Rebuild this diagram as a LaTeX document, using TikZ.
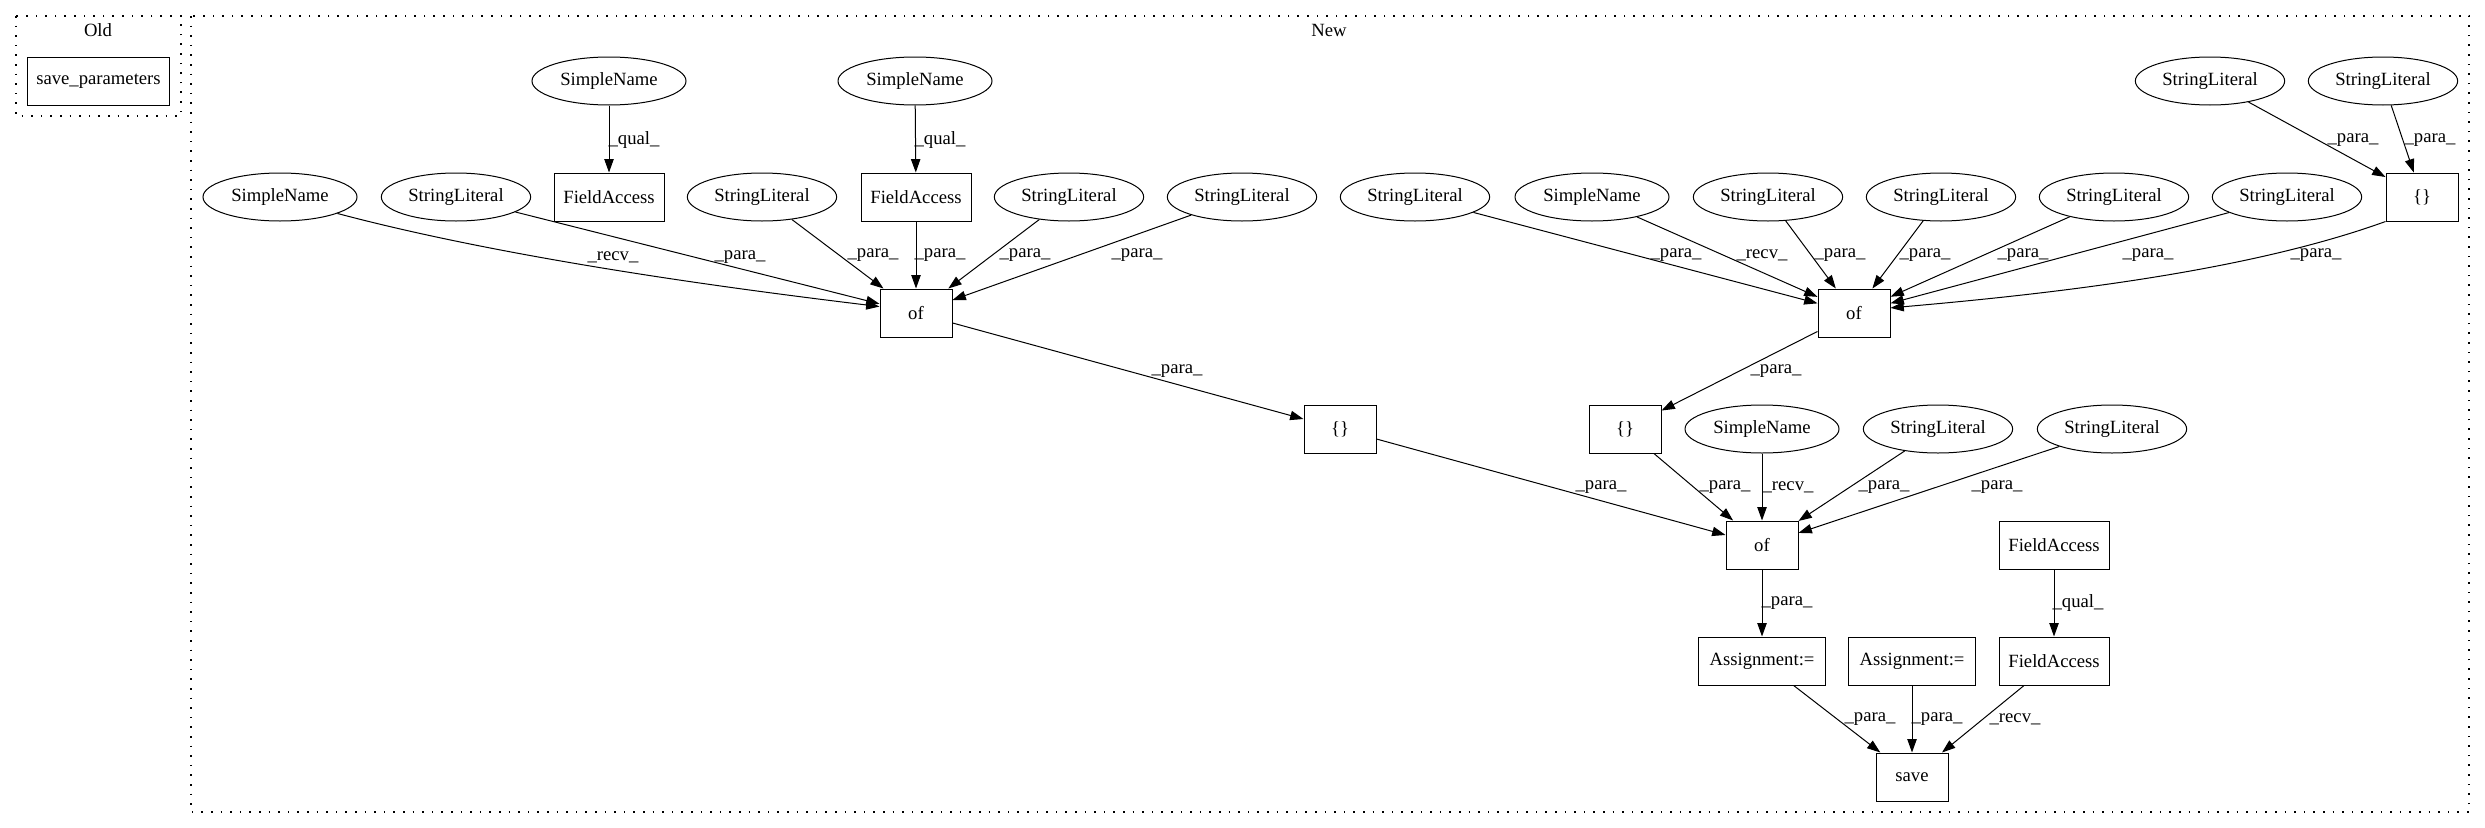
\documentclass[tikz,border=0pt]{standalone}
\usepackage{fontspec}
\setmainfont{Liberation Serif}
\usetikzlibrary{shapes.geometric,arrows.meta}
\tikzset{
  every node/.style={font=\fontsize{14}{16}\selectfont},
  ell/.style={ellipse, draw, line width=0.75pt, minimum width=112pt, minimum height=36pt, inner sep=0pt},
  sn/.style={ell, minimum width=115.5pt},
  box/.style={rectangle, draw, line width=0.75pt, minimum width=54pt, minimum height=36pt, inner sep=0pt},
  fa/.style={box, minimum width=82.5pt},
  asg/.style={box, minimum width=95pt},
  e/.style={draw, line width=0.75pt, -{Triangle[length=10pt,width=7pt]}},
  lab/.style={inner sep=0pt},
  clus/.style={draw, line width=0.9pt, dash pattern=on 1.2pt off 6pt}
}
\begin{document}
\begin{tikzpicture}[x=0.75pt, y=-0.75pt]
\useasboundingbox (0,0) rectangle (2485,828);
% clusters
\draw[clus] (16,16) rectangle (181,116);
\node (old) at (98,30) {Old};
\draw[clus] (191,16) rectangle (2469,812);
\node (new) at (1329,30) {New};
% Old
\node[box, minimum width=107pt] (sp) at (98.5,81) {save\_parameters};
% row 1
\node[sn] (sn1) at (609,81) {SimpleName};
\node[sn] (sn2) at (915,81) {SimpleName};
\node[ell] (slt1) at (2210,81) {StringLiteral};
\node[ell] (slt2) at (2383,81) {StringLiteral};
% row 2
\node[sn] (sna) at (280,197) {SimpleName};
\node[ell] (slb) at (456,197) {StringLiteral};
\node[fa] (fa1) at (609,197) {FieldAccess};
\node[ell] (slc) at (762,197) {StringLiteral};
\node[fa] (fa2) at (916,197) {FieldAccess};
\node[ell] (sld) at (1069,197) {StringLiteral};
\node[ell] (sle) at (1242,197) {StringLiteral};
\node[ell] (slf) at (1415,197) {StringLiteral};
\node[sn] (sng) at (1592,197) {SimpleName};
\node[ell] (slh) at (1768,197) {StringLiteral};
\node[ell] (sli) at (1941,197) {StringLiteral};
\node[ell] (slj) at (2114,197) {StringLiteral};
\node[ell] (slk) at (2287,197) {StringLiteral};
\node[box] (brt) at (2422,197) {\{\}};
% row 3
\node[box] (of1) at (916,313) {of};
\node[box] (of2) at (1854,313) {of};
% row 4
\node[box] (br1) at (1340,429) {\{\}};
\node[box] (br2) at (1625,429) {\{\}};
\node[sn] (snm) at (1762,429) {SimpleName};
\node[ell] (sln) at (1938,429) {StringLiteral};
\node[ell] (slo) at (2112,429) {StringLiteral};
% row 5
\node[box] (of3) at (1762,545) {of};
\node[fa] (fap) at (2054,545) {FieldAccess};
% row 6
\node[asg] (as1) at (1762,661) {Assignment:=};
\node[asg] (as2) at (1912,661) {Assignment:=};
\node[fa] (faq) at (2054,661) {FieldAccess};
% row 7
\node[box] (save) at (1912,777) {save};

% edges
\draw[e] (sn1) -- (fa1) node[lab] (l1) at (634,140) {\_qual\_};
\draw[e] (sn2) -- (fa2) node[lab] (l2) at (940,140) {\_qual\_};
\draw[e] (slt1) -- (brt) node[lab] (l3) at (2353,140) {\_para\_};
\draw[e] (slt2) -- (brt) node[lab] (l4) at (2430,140) {\_para\_};

\draw[e] (sna.-16) .. controls (520,262) and (760,292) .. (of1.170) node[lab] (l5) at (613,257) {\_recv\_};
\draw[e] (slb) -- (of1) node[lab] (l6) at (740,257) {\_para\_};
\draw[e] (slc) -- (of1) node[lab] (l7) at (873,255) {\_para\_};
\draw[e] (fa2) -- (of1) node[lab] (l8) at (940,255) {\_para\_};
\draw[e] (sld) -- (of1) node[lab] (l9) at (1025,255) {\_para\_};
\draw[e] (sle) -- (of1) node[lab] (l10) at (1137,255) {\_para\_};

\draw[e] (slf) -- (of2) node[lab] (l11) at (1676,255) {\_para\_};
\draw[e] (sng) -- (of2) node[lab] (l12) at (1762,255) {\_recv\_};
\draw[e] (slh) -- (of2) node[lab] (l13) at (1840,255) {\_para\_};
\draw[e] (sli) -- (of2) node[lab] (l14) at (1925,255) {\_para\_};
\draw[e] (slj) -- (of2) node[lab] (l15) at (2023,255) {\_para\_};
\draw[e] (slk) -- (of2) node[lab] (l16) at (2148,255) {\_para\_};
\draw[e] (brt.south west) .. controls (2246,272) and (2050,294) .. (of2.8) node[lab] (l17) at (2316,255) {\_para\_};

\draw[e] (of1) -- (br1) node[lab] (l18) at (1177,371) {\_para\_};
\draw[e] (of2) -- (br2) node[lab] (l19) at (1776,371) {\_para\_};

\draw[e] (br1) -- (of3) node[lab] (l20) at (1601,487) {\_para\_};
\draw[e] (br2) -- (of3) node[lab] (l21) at (1725,487) {\_para\_};
\draw[e] (snm) -- (of3) node[lab] (l22) at (1788,487) {\_recv\_};
\draw[e] (sln) -- (of3) node[lab] (l23) at (1884,487) {\_para\_};
\draw[e] (slo) -- (of3) node[lab] (l24) at (1997,487) {\_para\_};

\draw[e] (of3) -- (as1) node[lab] (l25) at (1787,603) {\_para\_};
\draw[e] (fap) -- (faq) node[lab] (l26) at (2078,603) {\_qual\_};

\draw[e] (as1) -- (save) node[lab] (l27) at (1870,719) {\_para\_};
\draw[e] (as2) -- (save) node[lab] (l28) at (1937,719) {\_para\_};
\draw[e] (faq) -- (save) node[lab] (l29) at (2015,719) {\_recv\_};
\end{tikzpicture}
\end{document}
